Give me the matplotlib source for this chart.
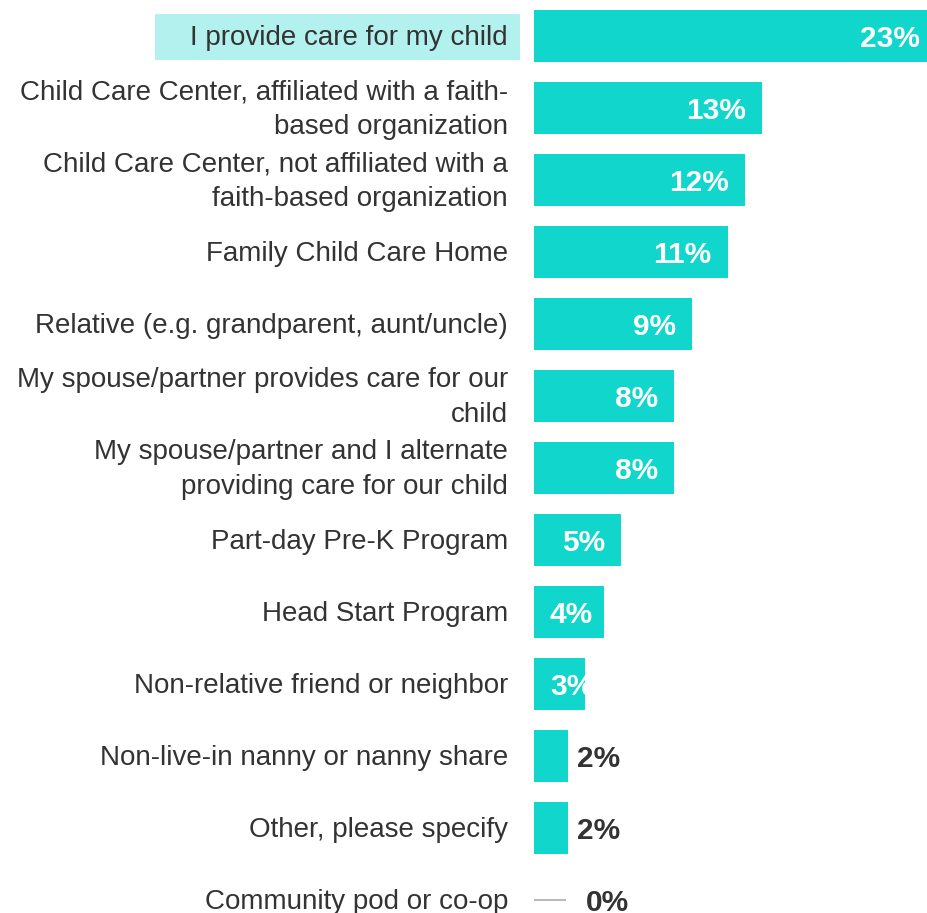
import matplotlib.pyplot as plt
from matplotlib.patches import Rectangle
from matplotlib.transforms import blended_transform_factory

plt.rcParams['font.family'] = ['Liberation Sans', 'DejaVu Sans']

categories = [
    "I provide care for my child",
    "Child Care Center, affiliated with a faith-\nbased organization",
    "Child Care Center, not affiliated with a\nfaith-based organization",
    "Family Child Care Home",
    "Relative (e.g. grandparent, aunt/uncle)",
    "My spouse/partner provides care for our\nchild",
    "My spouse/partner and I alternate\nproviding care for our child",
    "Part-day Pre-K Program",
    "Head Start Program",
    "Non-relative friend or neighbor",
    "Non-live-in nanny or nanny share",
    "Other, please specify",
    "Community pod or co-op",
]
values = [23.0, 13.3, 12.3, 11.3, 9.2, 8.2, 8.2, 5.1, 4.1, 3.0, 2.0, 2.0, 0.0]
value_labels = ["23%", "13%", "12%", "11%", "9%", "8%", "8%", "5%", "4%", "3%",
                "2%", "2%", "0%"]

bar_color = '#10d6cc'
text_color = '#333333'

fig = plt.figure(figsize=(9.28, 9.13), dpi=100)
ax = fig.add_axes([534 / 928, 0, 394 / 928, 1])
rows = list(range(len(categories)))

ax.barh(rows, values, height=0.72, color=bar_color, linewidth=0)
ax.set_xlim(0, 23.0)
ax.set_ylim(12.18, -0.5)
ax.axis('off')

trans = blended_transform_factory(ax.transAxes, ax.transData)

# highlight behind first label
ax.add_patch(Rectangle((-0.962, -0.31), 0.927, 0.65, transform=trans,
                       facecolor='#b3f1ee', edgecolor='none', clip_on=False, zorder=0))

for r, cat in zip(rows, categories):
    ax.annotate(cat, xy=(0, r), xycoords=trans, xytext=(-18.7, -1.2),
                textcoords='offset points', ha='right', va='center',
                fontsize=20, color=text_color, linespacing=1.42,
                annotation_clip=False, zorder=3)

for r, v, lab in zip(rows, values, value_labels):
    if v >= 5:
        pad = -6 if v == max(values) else -11.5
        ax.annotate(lab, xy=(v, r), xytext=(pad, -2.3), textcoords='offset points',
                    ha='right', va='center', fontsize=21.5, fontweight='bold',
                    color='white', annotation_clip=False)
    elif v >= 3:
        ax.annotate(lab, xy=(0, r), xytext=(11.5, -2.3), textcoords='offset points',
                    ha='left', va='center', fontsize=21.5, fontweight='bold',
                    color='white', annotation_clip=False)
    elif v > 0:
        ax.annotate(lab, xy=(v, r), xytext=(6, -2.3), textcoords='offset points',
                    ha='left', va='center', fontsize=21.5, fontweight='bold',
                    color=text_color, annotation_clip=False)
    else:
        ax.axhline(r, xmin=0, xmax=31 / 394, color='#bbbbbb', lw=1.5)
        ax.annotate(lab, xy=(v, r), xytext=(37, -2.3), textcoords='offset points',
                    ha='left', va='center', fontsize=21.5, fontweight='bold',
                    color=text_color, annotation_clip=False)

fig.savefig('out.png', dpi=100)
